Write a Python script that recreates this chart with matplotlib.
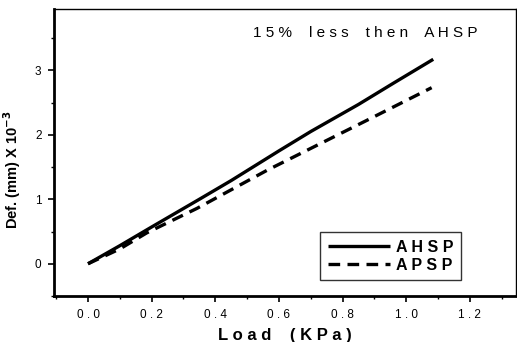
import matplotlib
matplotlib.use("Agg")
import matplotlib.pyplot as plt
from matplotlib.ticker import MultipleLocator

plt.rcParams['font.family'] = ['Liberation Sans', 'DejaVu Sans']

load_ahsp = [0.0, 0.1, 0.2, 0.35, 0.45, 0.60, 0.70, 0.85, 0.96, 1.085]
def_ahsp = [0.0, 0.28, 0.57, 1.00, 1.29, 1.75, 2.05, 2.47, 2.80, 3.17]
load_apsp = [0.0, 0.1, 0.185, 0.343, 0.563, 0.887, 1.08]
def_apsp = [0.0, 0.23, 0.48, 0.86, 1.45, 2.25, 2.73]

xticks = [0.0, 0.2, 0.4, 0.6, 0.8, 1.0, 1.2]
xticklabels = ['0 . 0', '0 . 2', '0 . 4', '0 . 6', '0 . 8', '1 . 0', '1 . 2']
yticks = [0, 1, 2, 3]
yticklabels = ['0', '1', '2', '3']

fig = plt.figure(figsize=(5.17, 3.42), dpi=100)
ax = fig.add_axes([0.1044, 0.1345, 0.8936, 0.8392])

ax.plot(load_ahsp, def_ahsp, color='black', lw=2.4, label='A H S P', solid_capstyle='butt')
ax.plot(load_apsp, def_apsp, color='black', lw=2.4, ls=(0, (3.5, 2.2)), label='A P S P')

ax.set_xlim(-0.107, 1.345)
ax.set_ylim(-0.5, 3.95)
ax.set_xticks(xticks)
ax.set_xticklabels(xticklabels, fontsize=8.5)
ax.set_yticks(yticks)
ax.set_yticklabels(yticklabels, fontsize=8.5)
ax.xaxis.set_minor_locator(MultipleLocator(0.1))
ax.yaxis.set_minor_locator(MultipleLocator(0.5))
ax.tick_params(which='major', direction='out', length=4, width=1.2, pad=5)
ax.tick_params(which='minor', direction='out', length=2.5, width=1)

ax.spines['left'].set_linewidth(2)
ax.spines['bottom'].set_linewidth(2)
ax.spines['top'].set_linewidth(1)
ax.spines['right'].set_linewidth(1)

ax.set_xlabel('L o a d    ( K P a )', fontsize=12, fontweight='bold')
ax.xaxis.set_label_coords(0.5, -0.11)
ax.set_ylabel(r'Def. (mm) X 10$^{\mathbf{-3}}$', fontsize=10.5, fontweight='bold')
ax.yaxis.set_label_coords(-0.067, 0.44)

ax.text(0.43, 0.915, '1 5 %    l e s s    t h e n    A H S P', transform=ax.transAxes,
        fontsize=11, ha='left', va='center')

leg = ax.legend(loc='lower right', bbox_to_anchor=(0.881, 0.056), fontsize=11.5,
                frameon=True, fancybox=False, edgecolor='black', handlelength=3.9,
                borderpad=0.45, labelspacing=0.2, handletextpad=0.4, borderaxespad=0)
leg.get_frame().set_linewidth(1)
for t in leg.get_texts():
    t.set_fontweight('bold')

fig.savefig('out.png', dpi=100)
